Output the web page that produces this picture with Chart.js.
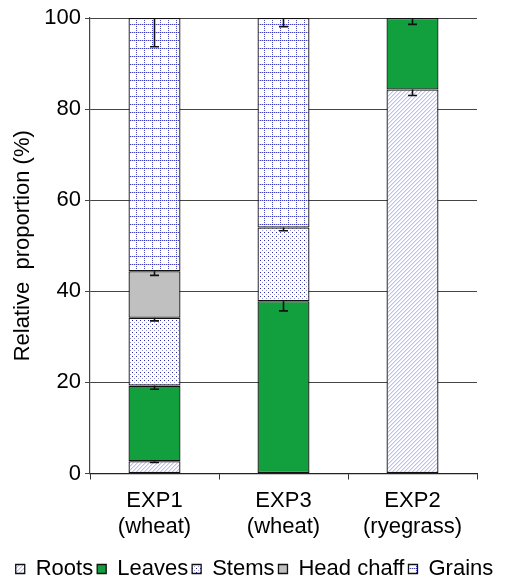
<!DOCTYPE html>
<html><head><meta charset="utf-8">
<script src="https://cdn.jsdelivr.net/npm/chart.js@4/dist/chart.umd.min.js"></script>
<style>html,body{margin:0;padding:0;background:#fff}#wrap{position:absolute;left:0;top:0;width:509px;height:581px}</style>
</head><body><div id="wrap"><canvas id="c" width="509" height="581"></canvas></div>
<script>
const categories = [['EXP1','(wheat)'], ['EXP3','(wheat)'], ['EXP2','(ryegrass)']];
const seriesNames = ['Roots', 'Leaves', 'Stems', 'Head chaff', 'Grains'];
const roots     = [2.7, null, 84.3];
const leaves    = [16.6, 37.8, 15.7];
const stems     = [14.9, 16.2, null];
const headChaff = [10.2, null, null];
const grains    = [55.6, 46.0, null];
const rootsErr     = [0.3, 0, 1.3];
const leavesErr    = [0.8, 2.1, 1.4];
const stemsErr     = [0.7, 0.7, 0];
const headChaffErr = [0.9, 0, 0];
const grainsErr    = [6.3, 1.9, 0];
const yTicks = [0, 20, 40, 60, 80, 100];

const FONT = 'Liberation Sans, Arial, sans-serif';
const FS = 22;

function makePattern(size, draw){
  const c = document.createElement('canvas'); c.width = size; c.height = size;
  const g = c.getContext('2d'); g.fillStyle = '#fff'; g.fillRect(0,0,size,size); draw(g);
  return document.getElementById('c').getContext('2d').createPattern(c, 'repeat');
}
const rootsPat = makePattern(4, g => {
  g.fillStyle = '#bcc0f4';
  for (let i = 0; i < 4; i++) g.fillRect(3 - i, i, 1, 1);
  g.fillStyle = '#e2e4fa';
  for (let i = 0; i < 4; i++) g.fillRect((4 - i) % 4, i, 1, 1);
});
const stemsPat = makePattern(4, g => {
  g.fillStyle = '#2a2ab0'; g.fillRect(0,0,1,1);
  g.fillStyle = 'rgba(60,60,190,0.55)'; g.fillRect(2,2,1,1);
});
const grainsPat = makePattern(8, g => {
  g.fillStyle = 'rgba(40,40,180,0.85)';
  for (let i = 0; i < 8; i += 2) { g.fillRect(0, i, 1, 1); g.fillRect(i, 0, 1, 1); }
  g.fillStyle = 'rgba(120,120,210,0.5)';
  for (let i = 1; i < 8; i += 2) { g.fillRect(i, 0, 1, 1); }
});
const fills = [rootsPat, '#12a03e', stemsPat, '#c0c0c0', grainsPat];
const values = [roots, leaves, stems, headChaff, grains];
const errs = [rootsErr, leavesErr, stemsErr, headChaffErr, grainsErr];

const errorBars = {
  id: 'errorBars',
  afterDatasetsDraw(chart) {
    const ctx = chart.ctx, y = chart.scales.y;
    ctx.save(); ctx.strokeStyle = '#111'; ctx.lineWidth = 1.6;
    chart.data.datasets.forEach((ds, di) => {
      const meta = chart.getDatasetMeta(di);
      meta.data.forEach((el, i) => {
        const e = ds.err[i]; if (!e || ds.data[i] == null) return;
        const topVal = y.getValueForPixel(el.y);
        const y2 = y.getPixelForValue(topVal - e);
        ctx.beginPath(); ctx.moveTo(el.x, el.y); ctx.lineTo(el.x, y2);
        ctx.moveTo(el.x - 4.5, y2); ctx.lineTo(el.x + 4.5, y2); ctx.stroke();
      });
    });
    ctx.restore();
  }
};

new Chart(document.getElementById('c'), {
  type: 'bar',
  data: {
    labels: categories,
    datasets: seriesNames.map((n, i) => ({
      label: n, data: values[i], err: errs[i], backgroundColor: fills[i],
      borderColor: '#111', borderWidth: 1.3, borderSkipped: false,
      barPercentage: 1, categoryPercentage: 0.403
    }))
  },
  options: {
    responsive: false, animation: false,
    layout: { padding: { top: 18, right: 0, left: 0, bottom: -9 } },
    plugins: {
      tooltip: { enabled: false },
      legend: {
        position: 'bottom',
        labels: { boxWidth: 9, boxHeight: 9, padding: 4, color: '#000',
          font: { family: FONT, size: FS } }
      }
    },
    scales: {
      x: {
        stacked: true,
        grid: { drawOnChartArea: false, offset: true, tickLength: 6, color: '#333' },
        border: { color: '#222', width: 1.2 },
        ticks: { color: '#000', padding: 9, font: { family: FONT, size: FS, lineHeight: 1.15 } },
        afterFit(s) { s.height = 80.5; }
      },
      y: {
        stacked: true, min: 0, max: 100,
        afterBuildTicks(s) { s.ticks = yTicks.map(v => ({ value: v })); },
        grid: { color: '#444', lineWidth: 1, tickLength: 5 },
        border: { color: '#444', width: 1.2 },
        ticks: { color: '#000', padding: 4, font: { family: FONT, size: FS } },
        title: { display: true, text: 'Relative  proportion (%)', color: '#000',
          padding: { top: 10, bottom: 0 }, font: { family: FONT, size: FS } },
        afterFit(s) { s.width = 90; }
      },
      yRight: {
        type: 'linear', position: 'right', min: 0, max: 100,
        grid: { display: false, drawTicks: false }, border: { display: false },
        ticks: { display: false },
        afterFit(s) { s.width = 32; }
      }
    }
  },
  plugins: [errorBars]
});
</script></body></html>
